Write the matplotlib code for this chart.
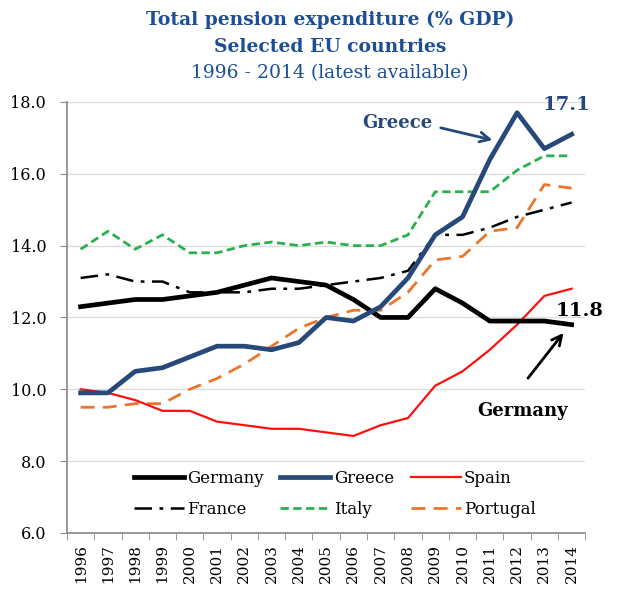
import numpy as np
import matplotlib
matplotlib.use("Agg")
import matplotlib.pyplot as plt

years = list(range(1996, 2015))
germany = [12.3, 12.4, 12.5, 12.5, 12.6, 12.7, 12.9, 13.1, 13.0, 12.9, 12.5, 12.0, 12.0, 12.8, 12.4, 11.9, 11.9, 11.9, 11.8]
greece = [9.9, 9.9, 10.5, 10.6, 10.9, 11.2, 11.2, 11.1, 11.3, 12.0, 11.9, 12.3, 13.1, 14.3, 14.8, 16.4, 17.7, 16.7, 17.1]
spain = [10.0, 9.9, 9.7, 9.4, 9.4, 9.1, 9.0, 8.9, 8.9, 8.8, 8.7, 9.0, 9.2, 10.1, 10.5, 11.1, 11.8, 12.6, 12.8]
france = [13.1, 13.2, 13.0, 13.0, 12.7, 12.7, 12.7, 12.8, 12.8, 12.9, 13.0, 13.1, 13.3, 14.3, 14.3, 14.5, 14.8, 15.0, 15.2]
italy = [13.9, 14.4, 13.9, 14.3, 13.8, 13.8, 14.0, 14.1, 14.0, 14.1, 14.0, 14.0, 14.3, 15.5, 15.5, 15.5, 16.1, 16.5, 16.5]
portugal = [9.5, 9.5, 9.6, 9.6, 10.0, 10.3, 10.7, 11.2, 11.7, 12.0, 12.2, 12.2, 12.7, 13.6, 13.7, 14.4, 14.5, 15.7, 15.6]

blue = "#26497a"
title_blue = "#1c4f96"

plt.rcParams['font.family'] = ['DejaVu Serif']

fig = plt.figure(figsize=(6.29, 6.07), dpi=100)
ax = fig.add_axes([0.1065, 0.122, 0.824, 0.71])

l_ger, = ax.plot(years, germany, color="black", lw=3.4, label="Germany", zorder=5)
l_gre, = ax.plot(years, greece, color=blue, lw=3.4, label="Greece", zorder=6)
l_spa, = ax.plot(years, spain, color="#ff1010", lw=1.6, label="Spain", zorder=4, solid_joinstyle="round")
l_fra, = ax.plot(years, france, color="black", lw=1.8, dashes=(7, 3, 1.5, 3), label="France", zorder=3)
l_ita, = ax.plot(years, italy, color="#2bb04f", lw=2.0, dashes=(3, 1.6), label="Italy", zorder=3)
l_por, = ax.plot(years, portugal, color="#e8762d", lw=2.0, dashes=(5, 3), label="Portugal", zorder=3)

ax.set_xlim(1995.5, 2014.5)
ax.set_ylim(6, 18)
ax.set_yticks(np.arange(6, 18.1, 2))
ax.set_yticklabels([f"{v:.1f}" for v in np.arange(6, 18.1, 2)], fontsize=11.5)
ax.set_xticks(years)
ax.set_xticklabels([str(y) for y in years], rotation=90, fontsize=11)
ax.set_xticks(np.arange(1995.5, 2015, 1), minor=True)
ax.tick_params(axis="x", which="major", length=0, pad=8)
ax.tick_params(axis="x", which="minor", length=5, color="#888888")
ax.tick_params(axis="y", length=5, color="#888888", pad=10)
ax.grid(axis="y", color="#dddddd", lw=1)
ax.set_axisbelow(True)
for s in ["top", "right"]:
    ax.spines[s].set_visible(False)
for s in ["left", "bottom"]:
    ax.spines[s].set_color("#888888")
    ax.spines[s].set_linewidth(1.2)

# row order: Germany Greece Spain / France Italy Portugal
handles = [l_ger, l_fra, l_gre, l_ita, l_spa, l_por]
ax.legend(handles=handles, labels=[h.get_label() for h in handles],
          loc="lower left", bbox_to_anchor=(0.1, 0.0), ncol=3, frameon=False,
          fontsize=12, handlelength=3.0, handletextpad=0.2, columnspacing=1.0,
          labelspacing=0.85)

# annotations
arrow = dict(arrowstyle="->,head_length=0.7,head_width=0.35", lw=2, shrinkA=0, shrinkB=0)
ax.text(2007.6, 17.42, "Greece", color=blue, fontsize=13, fontweight="bold", ha="center", va="center")
ax.annotate("", xy=(2011.1, 16.94), xytext=(2009.2, 17.28), arrowprops=dict(arrow, color=blue))
ax.text(2013.8, 17.92, "17.1", color=blue, fontsize=14, fontweight="bold", ha="center", va="center")
ax.text(2014.3, 12.18, "11.8", color="black", fontsize=14, fontweight="bold", ha="center", va="center")
ax.text(2012.2, 9.4, "Germany", color="black", fontsize=13, fontweight="bold", ha="center", va="center")
ax.annotate("", xy=(2013.7, 11.57), xytext=(2012.4, 10.31), arrowprops=dict(arrow, color="black"))

fig.text(0.525, 0.967, "Total pension expenditure (% GDP)", ha="center", va="center",
         fontsize=13.5, fontweight="bold", color=title_blue)
fig.text(0.525, 0.923, "Selected EU countries", ha="center", va="center",
         fontsize=13.5, fontweight="bold", color=title_blue)
fig.text(0.525, 0.879, "1996 - 2014 (latest available)", ha="center", va="center",
         fontsize=13.5, color=title_blue)

fig.savefig("out.png", dpi=100)
